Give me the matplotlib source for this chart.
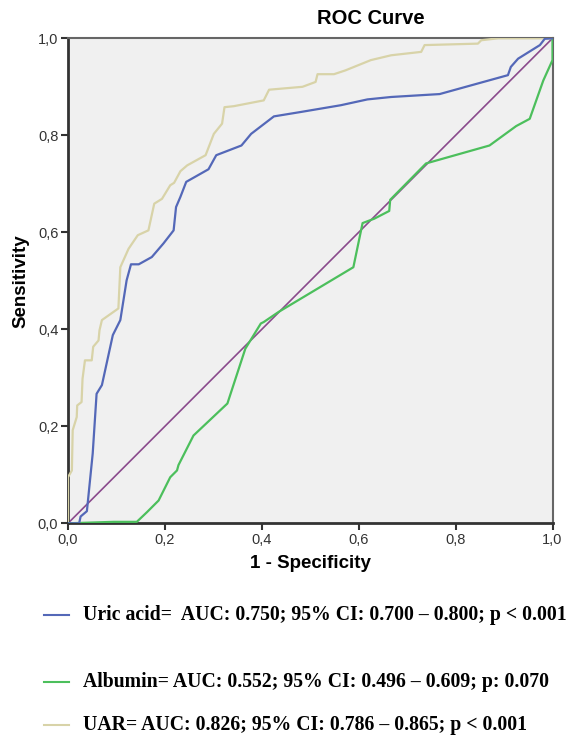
import matplotlib

matplotlib.use("Agg")
import matplotlib.pyplot as plt  # noqa: E402

# ROC points (1 - specificity, sensitivity)
uric_fpr = [0.0, 0.023, 0.026, 0.039, 0.051, 0.059, 0.070, 0.0925, 0.108, 0.121, 0.130,
            0.146, 0.173, 0.197, 0.218, 0.223, 0.232, 0.244, 0.290, 0.306, 0.358, 0.378,
            0.425, 0.480, 0.563, 0.618, 0.667, 0.767, 0.908, 0.914, 0.929, 0.974, 0.984, 1.0]
uric_tpr = [0.0, 0.0, 0.014, 0.025, 0.144, 0.267, 0.285, 0.388, 0.419, 0.501, 0.534,
            0.534, 0.549, 0.577, 0.604, 0.652, 0.673, 0.704, 0.730, 0.759, 0.779, 0.803,
            0.839, 0.848, 0.862, 0.874, 0.879, 0.885, 0.924, 0.941, 0.958, 0.986, 0.999, 1.0]

alb_fpr = [0.0, 0.094, 0.142, 0.163, 0.187, 0.211, 0.225, 0.228, 0.259, 0.329, 0.366,
           0.398, 0.404, 0.435, 0.589, 0.608, 0.632, 0.663, 0.665, 0.739, 0.870, 0.925,
           0.953, 0.981, 1.0, 1.0]
alb_tpr = [0.0, 0.003, 0.003, 0.023, 0.047, 0.095, 0.109, 0.120, 0.181, 0.247, 0.360,
           0.412, 0.415, 0.436, 0.528, 0.619, 0.628, 0.644, 0.667, 0.742, 0.779, 0.819,
           0.834, 0.913, 0.955, 1.0]

uar_fpr = [0.0, 0.0, 0.008, 0.0097, 0.018, 0.019, 0.028, 0.030, 0.035, 0.049, 0.052,
           0.063, 0.065, 0.070, 0.104, 0.108, 0.125, 0.144, 0.166, 0.178, 0.194, 0.211,
           0.219, 0.232, 0.246, 0.284, 0.301, 0.318, 0.323, 0.342, 0.404, 0.415, 0.484,
           0.511, 0.515, 0.549, 0.573, 0.625, 0.667, 0.729, 0.736, 0.846, 0.853, 0.888, 1.0]
uar_tpr = [0.0, 0.095, 0.109, 0.192, 0.219, 0.243, 0.250, 0.298, 0.336, 0.336, 0.364,
           0.377, 0.398, 0.419, 0.443, 0.528, 0.566, 0.594, 0.604, 0.659, 0.669, 0.697,
           0.702, 0.726, 0.738, 0.759, 0.803, 0.824, 0.858, 0.860, 0.872, 0.894, 0.900,
           0.910, 0.926, 0.926, 0.934, 0.955, 0.965, 0.972, 0.986, 0.989, 0.996, 1.0, 1.0]

ref_line = [0.0, 1.0]

ticks = [0.0, 0.2, 0.4, 0.6, 0.8, 1.0]
tick_labels = ["0,0", "0,2", "0,4", "0,6", "0,8", "1,0"]

legend_texts = [
    "Uric acid=  AUC: 0.750; 95% CI: 0.700 \u2013 0.800; p < 0.001",
    "Albumin= AUC: 0.552; 95% CI: 0.496 \u2013 0.609; p: 0.070",
    "UAR= AUC: 0.826; 95% CI: 0.786 \u2013 0.865; p < 0.001",
]

BLUE = "#5468b8"
GREEN = "#4cbf5c"
BEIGE = "#d8d3a8"
PURPLE = "#8a4a8c"

plt.rcParams["font.family"] = ["Liberation Sans", "DejaVu Sans"]

fig = plt.figure(figsize=(5.73, 7.4), dpi=100)
ax = fig.add_axes([68 / 573, 1 - 523.3 / 740, 484.5 / 573, 485 / 740])
ax.set_facecolor("#f0f0f0")

ax.plot(ref_line, ref_line, color=PURPLE, lw=1.2, zorder=2)
ax.plot(uar_fpr, uar_tpr, color=BEIGE, lw=1.6, zorder=3)
ax.plot(alb_fpr, alb_tpr, color=GREEN, lw=1.6, zorder=3)
ax.plot(uric_fpr, uric_tpr, color=BLUE, lw=1.6, zorder=4)

ax.set_xlim(0, 1)
ax.set_ylim(0, 1)
ax.set_xticks(ticks)
ax.set_xticklabels(tick_labels)
ax.set_yticks(ticks)
ax.set_yticklabels(tick_labels)
ax.tick_params(direction="out", length=5, width=1.5, color="#333333",
               labelsize=10.5, labelcolor="#333333", pad=2)

for side in ("left", "bottom"):
    ax.spines[side].set_linewidth(2.0)
    ax.spines[side].set_color("#333333")
for side in ("top", "right"):
    ax.spines[side].set_linewidth(1.5)
    ax.spines[side].set_color("#666666")

ax.set_xlabel("1 - Specificity", fontsize=13.5, fontweight="bold", labelpad=6)
ax.set_ylabel("Sensitivity", fontsize=13.5, fontweight="bold", labelpad=6)
fig.text(371 / 573, 1 - 18 / 740, "ROC Curve", fontsize=14.5, fontweight="bold",
         ha="center", va="center")

# legend below the plot, drawn by hand like the original figure
legend_y = [615, 682, 725]
for text, color, y in zip(legend_texts, [BLUE, GREEN, BEIGE], legend_y):
    yf = 1 - y / 740
    fig.add_artist(plt.Line2D([44 / 573, 69 / 573], [yf, yf], color=color, lw=1.5))
    fig.text(83 / 573, yf, text, fontsize=14.2, fontweight="bold", va="center",
             ha="left", family=["Liberation Serif", "DejaVu Serif"])

fig.savefig("out.png", dpi=100)
